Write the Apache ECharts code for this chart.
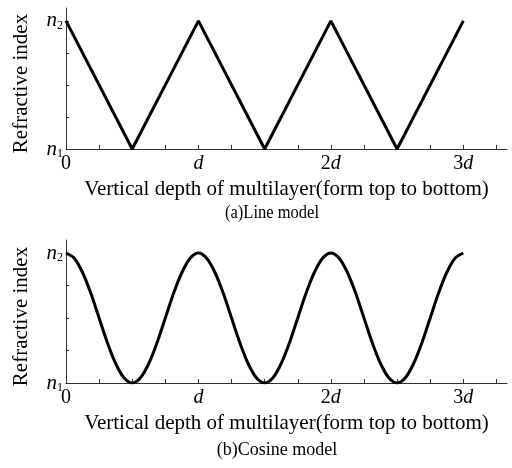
<!DOCTYPE html>
<html>
<head>
<meta charset="utf-8">
<script src="https://cdn.jsdelivr.net/npm/echarts@6/dist/echarts.min.js"></script>
<style>
  html, body { margin: 0; padding: 0; background: #fff; }
  #chart { width: 512px; height: 468px; }
</style>
</head>
<body>
<div id="chart"></div>
<script>
// depth in units of d, index normalised: 0 = n1, 1 = n2
var lineDepth = [0, 0.5, 1, 1.5, 2, 2.5, 3];
var lineIndex = [1, 0, 1, 0, 1, 0, 1];

var cosDepth = [0, 0.0625, 0.125, 0.1875, 0.25, 0.3125, 0.375, 0.4375,
                0.5, 0.5625, 0.625, 0.6875, 0.75, 0.8125, 0.875, 0.9375,
                1, 1.0625, 1.125, 1.1875, 1.25, 1.3125, 1.375, 1.4375,
                1.5, 1.5625, 1.625, 1.6875, 1.75, 1.8125, 1.875, 1.9375,
                2, 2.0625, 2.125, 2.1875, 2.25, 2.3125, 2.375, 2.4375,
                2.5, 2.5625, 2.625, 2.6875, 2.75, 2.8125, 2.875, 2.9375, 3];
var cosIndex = [1, 0.96, 0.85, 0.69, 0.5, 0.31, 0.15, 0.04,
                0, 0.04, 0.15, 0.31, 0.5, 0.69, 0.85, 0.96,
                1, 0.96, 0.85, 0.69, 0.5, 0.31, 0.15, 0.04,
                0, 0.04, 0.15, 0.31, 0.5, 0.69, 0.85, 0.96,
                1, 0.96, 0.85, 0.69, 0.5, 0.31, 0.15, 0.04,
                0, 0.04, 0.15, 0.31, 0.5, 0.69, 0.85, 0.96, 1];

var xTickValues = [0, 0.25, 0.5, 0.75, 1, 1.25, 1.5, 1.75, 2, 2.25, 2.5, 2.75, 3, 3.25];
var xLabelValues = [0, 1, 2, 3];
var xLabelText = ['0', '{i|d}', '2{i|d}', '3{i|d}'];
var yTickValues = [0, 0.25, 0.5, 0.75, 1];
var yLabelValues = [0, 1];
var yLabelText = ['{i|n}{s|1}', '{i|n}{s|2}'];

var xName = 'Vertical depth of multilayer(form top to bottom)';
var yName = 'Refractive index';
var captions = ['(a)Line model', '(b)Cosine model'];

var serif = '"Liberation Serif", "Times New Roman", serif';

var myChart = echarts.init(document.getElementById('chart'));

function toPairs(xs, ys) {
	var out = [];
	for (var i = 0; i < xs.length; i++) out.push([xs[i], ys[i]]);
	return out;
}

function makeXAxis(idx) {
	return {
		type: 'value',
		gridIndex: idx,
		min: 0,
		max: 3.33,
		name: xName,
		nameLocation: 'middle',
		nameGap: 30,
		nameTextStyle: { color: '#000', fontFamily: serif, fontSize: 21 },
		axisLine: { show: true, onZero: false, lineStyle: { color: '#333', width: 1 } },
		axisTick: { show: true, inside: true, length: 4, customValues: xTickValues,
			lineStyle: { color: '#333' } },
		axisLabel: {
			customValues: xLabelValues,
			margin: 5,
			color: '#000',
			fontFamily: serif,
			fontSize: 20,
			formatter: function (v) {
				var k = xLabelValues.indexOf(Math.round(v));
				return k >= 0 ? xLabelText[k] : '';
			},
			rich: {
				i: { fontStyle: 'italic', fontFamily: serif, fontSize: 20, color: '#000' }
			}
		},
		splitLine: { show: false }
	};
}

function makeYAxis(idx) {
	return {
		type: 'value',
		gridIndex: idx,
		min: 0,
		max: 1.1,
		name: yName,
		nameLocation: 'middle',
		nameGap: 34,
		// padding on the right nudges the rotated title a little downward
		nameTextStyle: { color: '#000', fontFamily: serif, fontSize: 21, padding: [0, 10, 0, 0] },
		axisLine: { show: true, onZero: false, lineStyle: { color: '#333', width: 1 } },
		axisTick: { show: true, inside: true, length: 3, customValues: yTickValues,
			lineStyle: { color: '#333' } },
		axisLabel: {
			customValues: yLabelValues,
			margin: 3,
			color: '#000',
			fontFamily: serif,
			formatter: function (v) {
				var k = yLabelValues.indexOf(Math.round(v));
				return k >= 0 ? yLabelText[k] : '';
			},
			rich: {
				i: { fontStyle: 'italic', fontFamily: serif, fontSize: 21, color: '#000' },
				s: { fontFamily: serif, fontSize: 12, color: '#000', padding: [10, 0, 0, 0] }
			}
		},
		splitLine: { show: false }
	};
}

var option = {
	backgroundColor: '#fff',
	animation: false,
	grid: [
		{ left: 66, top: 8, width: 441, height: 141 },
		{ left: 66, top: 240, width: 441, height: 143 }
	],
	xAxis: [makeXAxis(0), makeXAxis(1)],
	yAxis: [makeYAxis(0), makeYAxis(1)],
	graphic: [
		{ type: 'text', x: 272, y: 213, scaleX: 0.87, originX: 0,
			style: { text: captions[0], fill: '#000', font: '19px ' + serif,
				align: 'center', verticalAlign: 'middle' } },
		{ type: 'text', x: 277, y: 450,
			style: { text: captions[1], fill: '#000', font: '18px ' + serif,
				align: 'center', verticalAlign: 'middle' } }
	],
	series: [
		{
			name: 'line',
			type: 'line',
			xAxisIndex: 0,
			yAxisIndex: 0,
			data: toPairs(lineDepth, lineIndex),
			symbol: 'none',
			lineStyle: { color: '#000', width: 3 }
		},
		{
			name: 'cosine',
			type: 'line',
			xAxisIndex: 1,
			yAxisIndex: 1,
			data: toPairs(cosDepth, cosIndex),
			smooth: 0.3,
			symbol: 'none',
			lineStyle: { color: '#000', width: 3 }
		}
	]
};

myChart.setOption(option);
</script>
</body>
</html>
